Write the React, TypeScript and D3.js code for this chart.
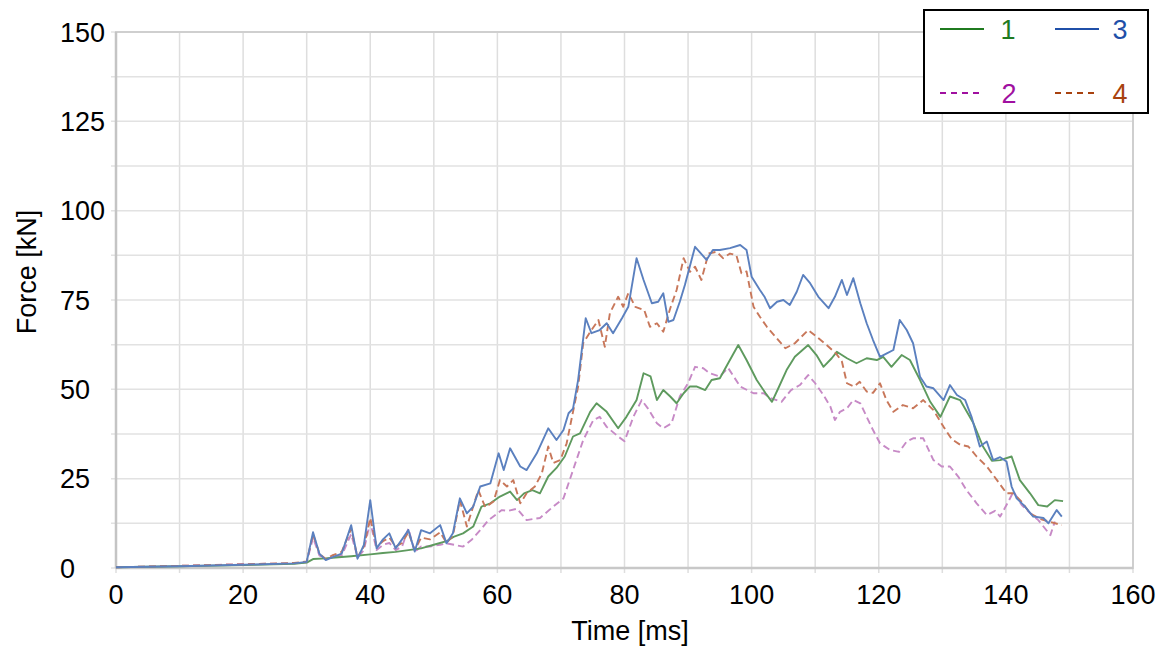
import React from "react";
import * as d3 from "d3";

// ---- Data (time [ms], force [kN]) ----
const series1: [number, number][] = [
  [0, 0.2], [10, 0.5], [20, 0.8], [28, 1.2], [30, 1.5], [31, 2.5], [33, 2.7], [35, 3], [37, 3.3], [40, 3.8],
  [42, 4.2], [44, 4.5], [46, 5], [48, 5.5], [50, 6.5], [52, 7.5], [53.1, 8.7], [54.6, 9.7], [56.2, 11.6],
  [57.5, 17.2], [58.9, 18.1], [60.4, 20], [62, 21.4], [63.1, 19], [64.2, 20.9], [65.5, 21.8], [66.7, 20.9],
  [68, 25.6], [69.3, 28], [70.6, 31.2], [71.9, 36.8], [73, 37.7], [74.6, 43.7], [75.6, 46.1], [77.2, 43.7],
  [79, 39.1], [80.3, 42.3], [81.9, 47], [83, 54.5], [84.1, 53.6], [85.1, 47], [86.1, 49.8], [87.2, 48],
  [88.2, 46.1], [89.3, 48.9], [90.3, 50.8], [91.3, 50.8], [92.7, 49.8], [93.7, 52.6], [95, 53.1], [96.3, 57.3],
  [97.9, 62.4], [99.2, 58.2], [100.8, 52.6], [102.2, 48.9], [103.2, 46.5], [104.2, 50.3], [105.5, 55.4],
  [106.8, 59.1], [108.9, 62.4], [110.2, 59.6], [111.3, 56.3], [112.6, 58.7], [113.4, 60.5], [115, 58.7],
  [116.5, 57.3], [118.1, 58.7], [119.7, 58.2], [120.7, 59.1], [122, 56.3], [123.6, 59.6], [124.9, 58.2],
  [126.5, 52.6], [128.1, 46.5], [129.7, 42.3], [131.2, 48], [132.8, 47], [134.9, 40.5], [136.4, 34],
  [137.8, 30], [139.1, 30.2], [140.9, 31.2], [142.2, 24.6], [143.8, 20.9], [145.1, 17.6], [146.5, 17.2],
  [147.7, 19], [149, 18.7],
];

const series2: [number, number][] = [
  [0, 0.2], [10, 0.6], [20, 1.1], [28, 1.3], [30, 1.6], [31, 8.5], [32, 3.5], [33, 2.5], [34, 3], [35.5, 3.5],
  [37, 9.5], [38, 3], [39, 5], [40, 13], [41, 5], [42, 6.5], [43, 7], [44, 5], [45, 6], [46, 11], [47, 4.5],
  [48, 6], [49.4, 6], [51, 6.5], [52, 6.9], [54.6, 6], [56, 8], [57.5, 11], [58.6, 13.4], [60.7, 16.2],
  [61.7, 16], [63.1, 16.6], [64.6, 13.4], [66.7, 14], [68.8, 17.2], [70.4, 19.5], [71.9, 27.4], [73.5, 35.8],
  [75.1, 41.4], [76.1, 42.3], [77.2, 39.5], [79, 36.8], [80, 35.5], [81.4, 42.3], [82.7, 47], [83.7, 44.6],
  [85.1, 40.5], [86.1, 39.1], [87.4, 40.5], [88.7, 48], [90, 51.7], [91.1, 56.3], [92.4, 55.9], [93.4, 54.5],
  [95, 53.6], [96.3, 56], [98.2, 50.8], [100.3, 48.9], [101.9, 48.9], [103, 47.5], [104.7, 46.5], [106.2, 49.8],
  [107.6, 51.2], [108.9, 54], [110, 51.7], [111.3, 48.4], [112.4, 45.1], [113.1, 41.4], [113.9, 43.7],
  [115, 44.7], [116, 47], [117.1, 46.1], [118.1, 42.3], [119.1, 38.6], [120.2, 34.9], [121.8, 33],
  [123.2, 32.5], [124.4, 35.4], [125.4, 36.3], [127, 36.3], [128.6, 30.2], [129.9, 28.4], [131.2, 28.4],
  [132.5, 25.6], [133.8, 21.8], [135.4, 18.1], [137, 14.8], [138.3, 16], [139.1, 14.4], [140.4, 18.6],
  [141.2, 21.4], [142.5, 17.6], [143.8, 15.4], [145.1, 13.4], [147, 9.2], [147.7, 13],
];

const series3: [number, number][] = [
  [0, 0.2], [10, 0.5], [20, 0.9], [28, 1.3], [30, 1.7], [31, 10], [32, 4], [33, 2.2], [34, 3], [35.5, 4],
  [37, 12], [38, 2.6], [39, 6.5], [40, 19], [41, 5.5], [42, 8], [43, 9.7], [44, 5.5], [45, 8], [46, 10.6],
  [47, 4.6], [48, 10.6], [49.4, 9.7], [51, 12], [52, 6.9], [53, 9.7], [54.1, 19.5], [55.2, 15.3],
  [56.2, 17.2], [57.3, 22.8], [58.9, 23.7], [60.2, 32.1], [61, 27.4], [62, 33.5], [63.6, 28.4], [64.6, 27.4],
  [66.2, 32.1], [68, 39.1], [69.3, 35.8], [70.4, 38.6], [71.2, 43.3], [71.9, 44.6], [72.7, 52.6],
  [73.9, 69.9], [74.8, 65.7], [76.1, 66.6], [77.2, 68.5], [78.2, 65.7], [79.6, 69.9], [80.6, 73.1],
  [81.9, 86.7], [83, 80.6], [84.3, 74.1], [85.3, 74.5], [86.1, 76.9], [86.9, 68.9], [87.7, 69.4],
  [88.7, 74.5], [89.5, 79.2], [91.1, 89.9], [91.8, 88.5], [92.9, 86.2], [93.9, 89], [95, 89], [96.6, 89.5],
  [98.2, 90.4], [99.2, 89], [100, 81.5], [101.3, 77.8], [102, 76], [102.9, 72.7], [104, 74.5], [105, 75],
  [106, 73.6], [107.1, 77.3], [108.1, 82], [109.2, 79.7], [110.5, 75.9], [112.1, 72.7], [113.1, 75.9],
  [114.2, 80.6], [115, 76.4], [116, 81.1], [117.1, 74.1], [118.1, 68.5], [119.1, 63.8], [120.2, 59.1],
  [121.2, 60], [122.3, 61], [123.3, 69.4], [124.4, 66.6], [125.4, 62.9], [126.5, 53.5], [127.5, 50.8],
  [128.6, 50.3], [130.2, 47], [131.2, 51.2], [132.3, 48.4], [133.6, 47], [134.6, 42.3], [135.9, 34],
  [137, 35.4], [138, 30.2], [139.1, 31], [140.1, 29.8], [140.9, 22.8], [141.7, 19.5], [142.8, 17.6],
  [144.3, 14.4], [145.9, 14], [146.7, 12.5], [148, 16.2], [148.8, 14.4],
];

const series4: [number, number][] = [
  [0, 0.2], [10, 0.6], [20, 1], [28, 1.4], [30, 1.8], [31, 9.5], [32, 4], [33, 2.5], [34, 3.5], [35.5, 4.5],
  [37, 11], [38, 3], [39, 6], [40, 14], [41, 6], [42, 7.5], [43, 8.5], [44, 6], [45, 7], [46, 10], [47, 5],
  [48, 8.5], [49.4, 8], [51, 10], [52, 7], [53, 9], [54.1, 19], [55.2, 11.6], [57, 21.8], [58.1, 17],
  [59.4, 18.6], [60.4, 24.6], [61.5, 22.8], [62.5, 24.6], [63.6, 18.1], [64.6, 20.9], [65.9, 22.8],
  [67, 26.5], [68, 34], [68.8, 29.4], [69.9, 30.2], [70.9, 34.9], [71.9, 43.7], [72.7, 50.7], [73.5, 62.9],
  [74.8, 66.6], [75.9, 69.4], [76.9, 61.9], [77.7, 71.3], [79, 75.9], [79.8, 73.1], [80.6, 76.9],
  [81.7, 73.1], [83.1, 72.2], [84, 67.5], [85.1, 68.5], [86.1, 66.1], [87.2, 72.7], [88.2, 77.8],
  [89.3, 86.7], [90.3, 82.9], [91.1, 84.3], [92.1, 80.6], [93.2, 88], [94.5, 88.5], [95.5, 86.7], [96.6, 88],
  [97.6, 87.5], [98.4, 82.5], [99.2, 83], [100.3, 73.1], [101.3, 70.3], [102.4, 67.5], [103.7, 64.8],
  [105.3, 61.5], [106.8, 62.9], [108.9, 66.6], [110.2, 64.8], [111.8, 62.4], [113.3, 60], [114.2, 57.8],
  [115, 51.7], [116.1, 50.8], [117, 52.1], [118.1, 49.4], [119.1, 49], [120.2, 51.7], [121.2, 47],
  [122.3, 43.7], [123.8, 45.6], [125.4, 44.7], [127, 47], [128.6, 44.2], [130.2, 39.5], [131.5, 36],
  [132.8, 34.5], [134.1, 34], [135.4, 31.2], [137, 28.4], [138.6, 24.6], [140.1, 20.9], [141.2, 20.9],
  [142.5, 18.5], [143.8, 15.3], [145.4, 13.7], [147, 12.9], [148.8, 12],
];

const xTicks = [0, 20, 40, 60, 80, 100, 120, 140, 160];
const yTicks = [0, 25, 50, 75, 100, 125, 150];
const xGrid = d3.range(0, 161, 10);
const yGrid = d3.range(0, 150.1, 12.5);

const xTitle = "Time [ms]";
const yTitle = "Force [kN]";

type Ser = { name: string; data: [number, number][]; color: string; legendColor: string; dashed: boolean };
const seriesList: Ser[] = [
  { name: "2", data: series2, color: "#c78ac6", legendColor: "#a010a0", dashed: true },
  { name: "1", data: series1, color: "#5e9a5e", legendColor: "#1f7a1f", dashed: false },
  { name: "4", data: series4, color: "#c8775a", legendColor: "#a8420f", dashed: true },
  { name: "3", data: series3, color: "#5b80bf", legendColor: "#1f4fa8", dashed: false },
];

const W = 1176;
const H = 650;
const M = { left: 116, right: 1133, top: 32, bottom: 568 };
const FONT = "'Liberation Sans', Arial, sans-serif";

export default function App() {
  const x = d3.scaleLinear().domain([0, 160]).range([M.left, M.right]);
  const y = d3.scaleLinear().domain([0, 150]).range([M.bottom, M.top]);
  const line = d3
    .line<[number, number]>()
    .x((d) => x(d[0]))
    .y((d) => y(d[1]));

  const byName = (n: string) => seriesList.find((s) => s.name === n)!;
  const legendItems = [
    { s: byName("1"), lx: 940, ty: 29, tx: 1008 },
    { s: byName("3"), lx: 1055, ty: 29, tx: 1120 },
    { s: byName("2"), lx: 940, ty: 93, tx: 1009 },
    { s: byName("4"), lx: 1055, ty: 93, tx: 1120 },
  ];

  return (
    <svg width={W} height={H} style={{ position: "absolute", left: 0, top: 0, background: "#fff" }} fontFamily={FONT}>
      <rect x={0} y={0} width={W} height={H} fill="#fff" />
      {/* grid */}
      {xGrid.map((g) => (
        <line key={"xg" + g} x1={x(g)} x2={x(g)} y1={M.top} y2={M.bottom + 5} stroke="#dedede" strokeWidth={1.5} />
      ))}
      {yGrid.map((g) => (
        <line key={"yg" + g} x1={M.left - 5} x2={M.right} y1={y(g)} y2={y(g)} stroke="#e2e2e2" strokeWidth={1.5} />
      ))}
      {/* frame */}
      <rect x={M.left} y={M.top} width={M.right - M.left} height={M.bottom - M.top} fill="none" stroke="#cfcfcf" strokeWidth={2} />
      <line x1={M.left} x2={M.left} y1={M.top} y2={M.bottom} stroke="#c4c4c4" strokeWidth={2.5} />
      <line x1={M.left} x2={M.right} y1={M.bottom} y2={M.bottom} stroke="#c8c8c8" strokeWidth={2.5} />

      {/* series */}
      {seriesList.map((s) => (
        <path
          key={s.name}
          d={line(s.data) || ""}
          fill="none"
          stroke={s.color}
          strokeWidth={1.9}
          strokeDasharray={s.dashed ? "7,4" : undefined}
          strokeLinejoin="round"
        />
      ))}

      {/* y tick labels */}
      {yTicks.map((t) => (
        <text key={"yt" + t} x={60} y={y(t)} dy="0.36em" fontSize={27} fill="#000" textAnchor="start">
          {t}
        </text>
      ))}
      {/* x tick labels */}
      {xTicks.map((t) => (
        <text key={"xt" + t} x={x(t)} y={604} fontSize={27} fill="#000" textAnchor="middle">
          {t}
        </text>
      ))}
      <text x={630} y={640} fontSize={27} textAnchor="middle" fill="#000">
        {xTitle}
      </text>
      <text transform={`translate(36,${272}) rotate(-90)`} fontSize={27} textAnchor="middle" fill="#000">
        {yTitle}
      </text>

      {/* legend */}
      <rect x={924} y={10} width={224} height={103} fill="#fff" stroke="#000" strokeWidth={2} />
      {legendItems.map(({ s, lx, ty, tx }) => (
        <g key={"lg" + s.name}>
          <line
            x1={lx}
            x2={lx + 44}
            y1={ty}
            y2={ty}
            stroke={s.legendColor}
            strokeWidth={2}
            strokeDasharray={s.dashed ? "6,5" : undefined}
          />
          <text x={tx} y={ty} dy="0.36em" fontSize={27} textAnchor="middle" fill={s.legendColor}>
            {s.name}
          </text>
        </g>
      ))}
    </svg>
  );
}
